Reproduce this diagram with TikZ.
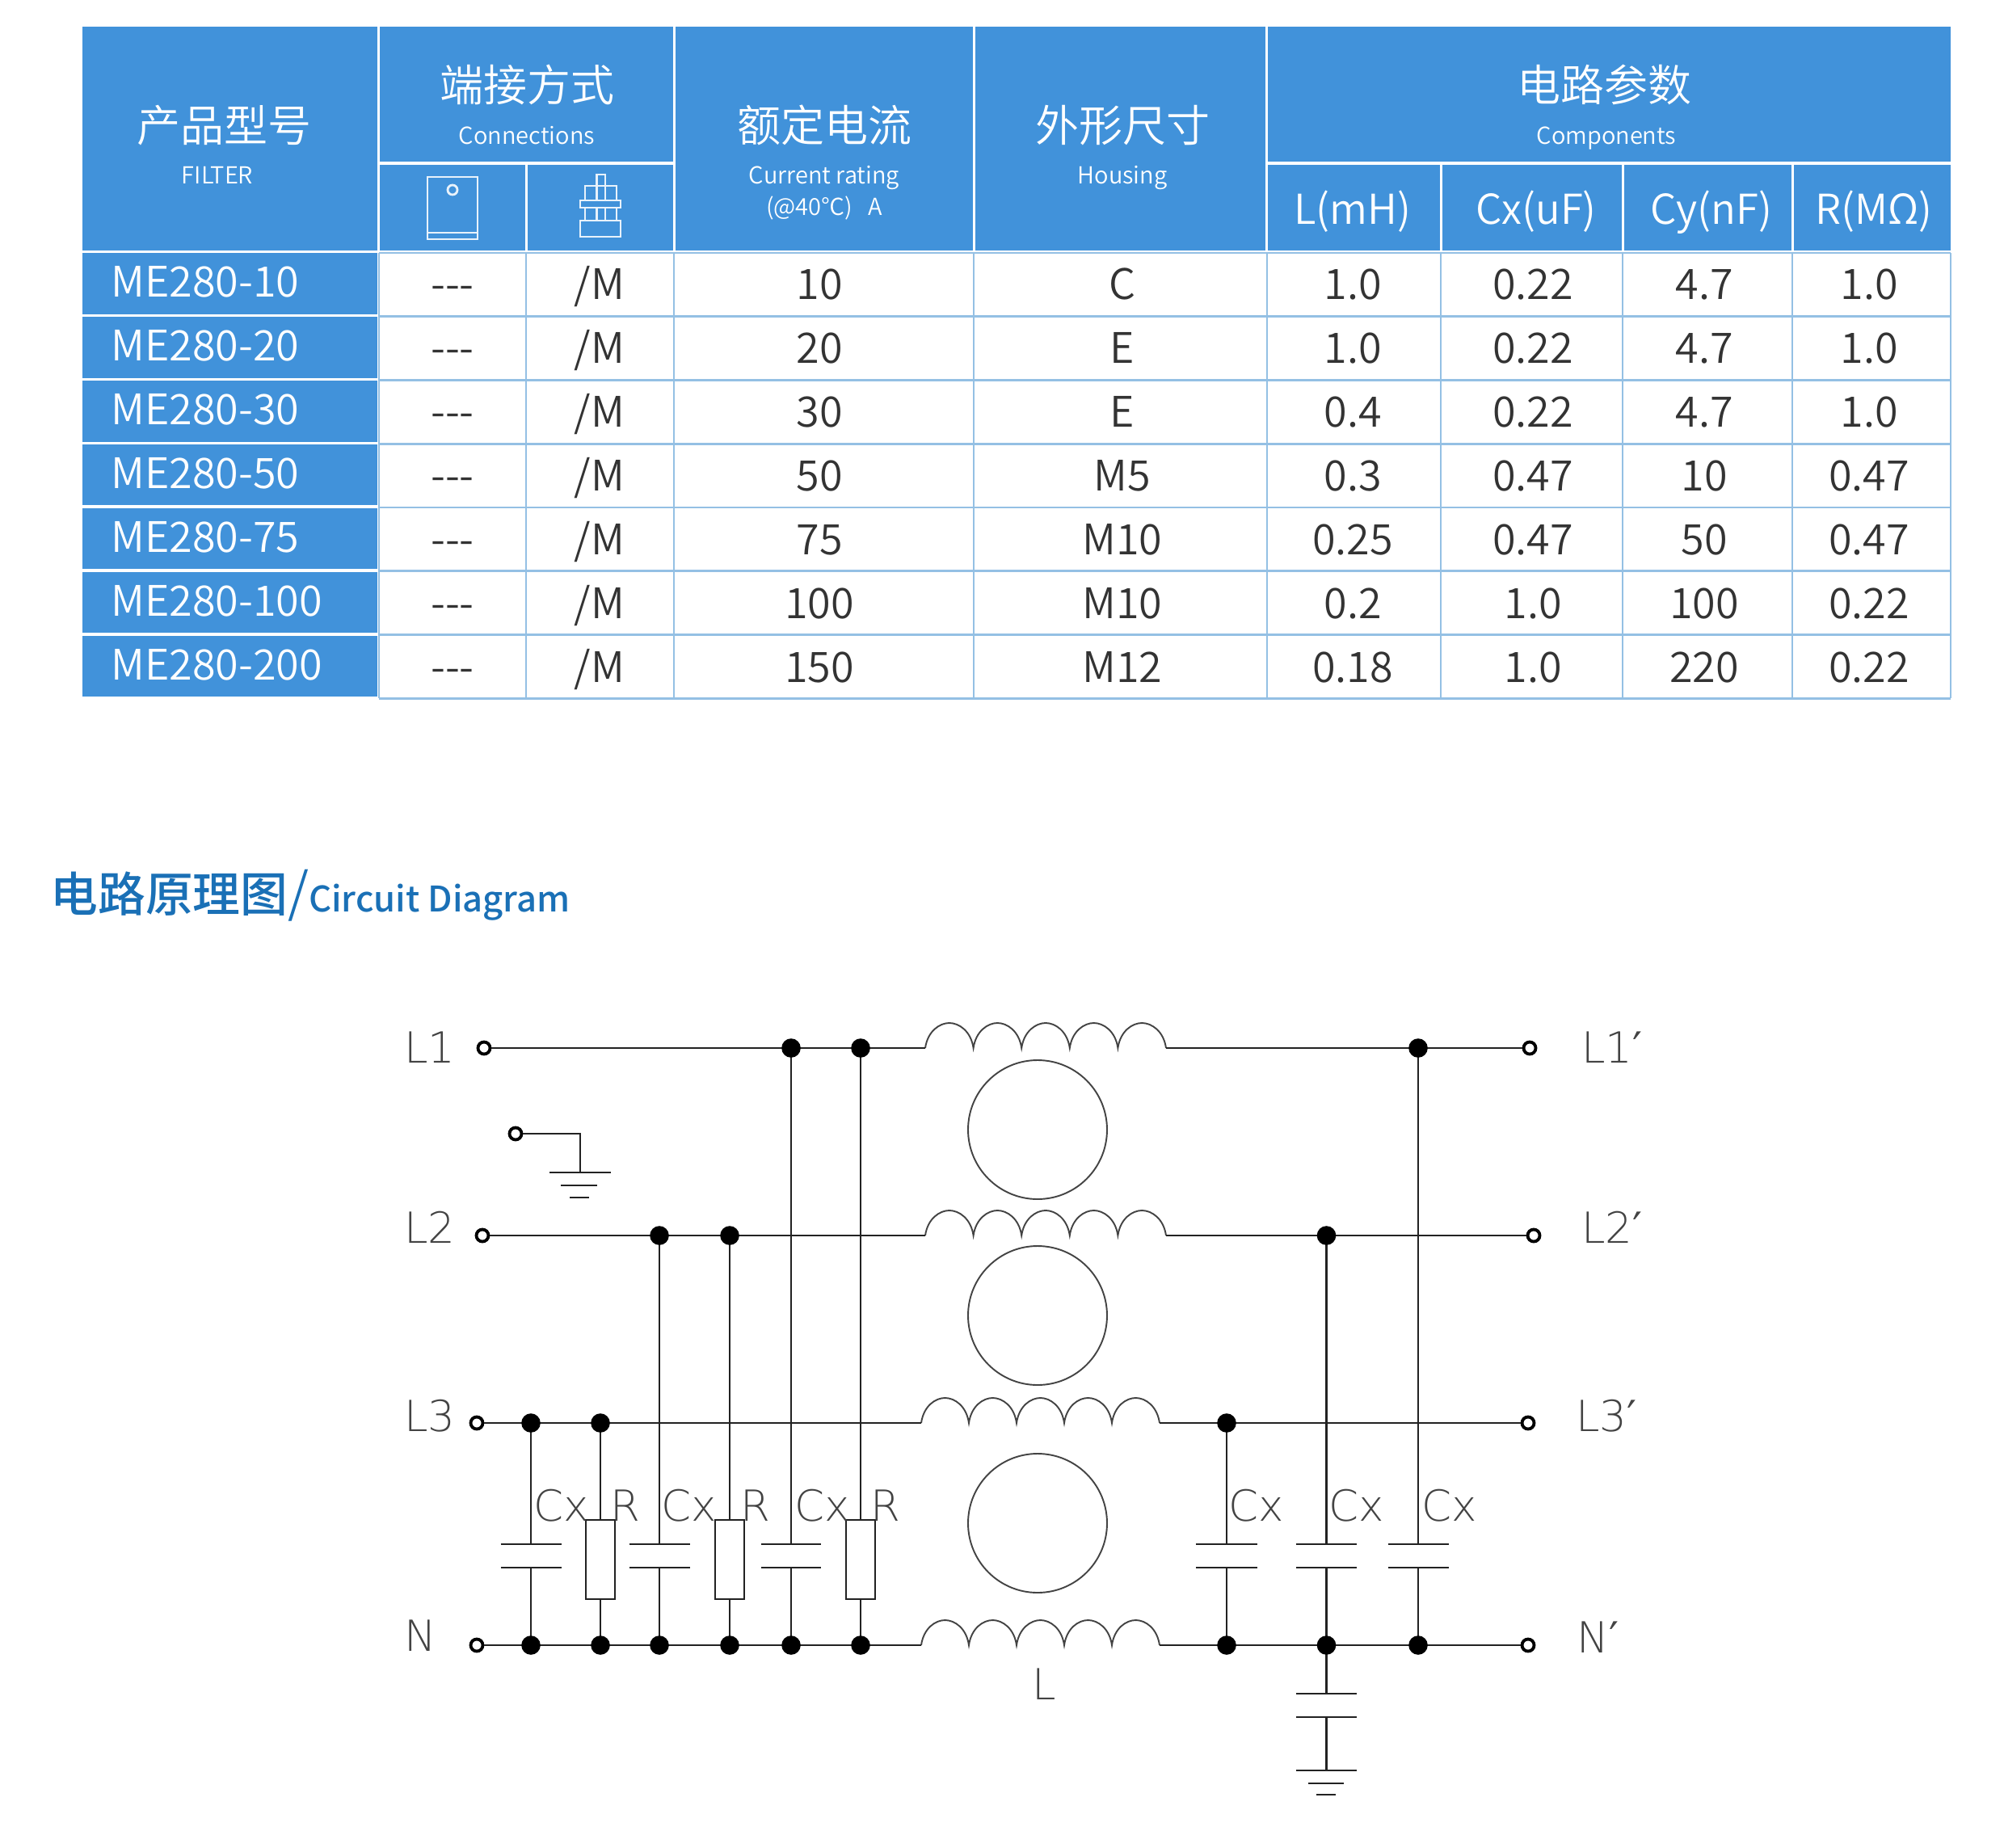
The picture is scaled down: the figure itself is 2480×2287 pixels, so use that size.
\documentclass[tikz,border=0pt]{standalone}
\usepackage{fontspec}
\IfFontExistsTF{Noto Sans CJK SC DemiLight}
  {\newfontfamily\tblf{Noto Sans CJK SC DemiLight}}
  {\IfFontExistsTF{Noto Sans CJK SC Light}
    {\newfontfamily\tblf{Noto Sans CJK SC Light}}
    {\newfontfamily\tblf{Noto Sans CJK SC}}}
\IfFontExistsTF{Noto Sans CJK SC Medium}
  {\newfontfamily\ttlf{Noto Sans CJK SC Medium}}
  {\newfontfamily\ttlf{Noto Sans CJK SC}}
\IfFontExistsTF{DejaVu Sans ExtraLight}
  {\newfontfamily\cadf{DejaVu Sans ExtraLight}}
  {\newfontfamily\cadf{Lato}}
\newfontfamily\primef{DejaVu Sans}
\newcommand\cadprime{{\primef ′}}
\definecolor{hdrblue}{HTML}{4192DA}
\definecolor{gridblue}{HTML}{94C0E4}
\definecolor{inkdark}{HTML}{333333}
\definecolor{titleblue}{HTML}{1A70B6}
\definecolor{wire}{HTML}{222222}
\newcommand\sz[1]{\fontsize{#1}{#1}\selectfont}
\newcommand\coilat[4]{%
  \coordinate (#1a) at (#2,#3);
  \coordinate (#1b) at ({#2+5*#4},#3);
  \draw[coilline] (#1a) foreach \i in {0,...,4}{
     .. controls ({#2+\i*#4+3},{#3-21}) and ({#2+\i*#4+0.5*#4-12},{#3-31}) .. ({#2+\i*#4+0.5*#4},{#3-31})
     .. controls ({#2+\i*#4+0.5*#4+12},{#3-31}) and ({#2+\i*#4+#4-3},{#3-21}) .. ({#2+(\i+1)*#4},#3)
  };}
\newcommand\capat[4]{%
  \coordinate (#1t) at (#2,#3);
  \coordinate (#1b) at (#2,{#3+29});
  \draw[plate] ({#2-#4},#3) -- ({#2+#4},#3);
  \draw[plate] ({#2-#4},{#3+29}) -- ({#2+#4},{#3+29});}
\begin{document}
\begin{tikzpicture}[x=0.5pt,y=-0.5pt,
  hdr/.style={fill=hdrblue,draw=none},
  htxt/.style={text=white,inner sep=0pt,font=\tblf\sz{27},anchor=center},
  hsub/.style={text=white,inner sep=0pt,font=\tblf\sz{14.5},anchor=base},
  hpar/.style={text=white,inner sep=0pt,font=\tblf\sz{25.5},anchor=base},
  mtxt/.style={text=white,inner sep=0pt,font=\tblf\sz{26},anchor=base west},
  dtxt/.style={text=inkdark,inner sep=0pt,font=\tblf\sz{26},anchor=base},
  gridl/.style={draw=gridblue,line width=1.4pt},
  icon/.style={draw=white!88!hdrblue,line width=1.4pt},
  wireline/.style={draw=wire,line width=1.35pt},
  vline/.style={draw=wire,line width=1.15pt},
  plate/.style={draw=wire,line width=1.35pt},
  coilline/.style={draw=wire!85!white,line width=0.95pt},
  core/.style={draw=wire!85!white,line width=0.95pt,circle,minimum size=86pt,inner sep=0pt},
  dot/.style={circle,fill=black,minimum size=11.8pt,inner sep=0pt},
  term/.style={circle,draw=black,fill=white,line width=1.9pt,minimum size=7.5pt,inner sep=0pt},
  res/.style={draw=wire,line width=1.15pt,minimum width=18pt,minimum height=49pt,inner sep=0pt},
  cad/.style={text=wire!85!white,inner sep=0pt,font=\cadf\sz{26.5},anchor=base west}]
\useasboundingbox (0,0) rectangle (2480,2287);
\fill[white] (0,0) rectangle (2480,2287);
% ---------- table header
\fill[hdr] (102,33) rectangle (467,310);
\fill[hdr] (470,33) rectangle (833,200);
\fill[hdr] (470,204) rectangle (650,310);
\fill[hdr] (653,204) rectangle (833,310);
\fill[hdr] (836,33) rectangle (1204,310);
\fill[hdr] (1207,33) rectangle (1566,310);
\fill[hdr] (1569,33) rectangle (2414,200);
\fill[hdr] (1569,204) rectangle (1782,310);
\fill[hdr] (1785,204) rectangle (2007,310);
\fill[hdr] (2010,204) rectangle (2217,310);
\fill[hdr] (2220,204) rectangle (2414,310);
% ---------- model column cells
\foreach \k in {0,...,6}{
  \fill[hdr] (102,{313+79*\k}) rectangle (467,{389+78.8*\k});
}
% ---------- data grid
\foreach \xx in {469,651,834,1205,1568,1783,2008,2218,2414}{
  \draw[gridl] (\xx,313) -- (\xx,864);
}
\foreach \k in {0,...,7}{
  \draw[gridl] (469,{313+78.75*\k}) -- (2414,{313+78.75*\k});
}
% ---------- header text
\node[htxt] (h1) at (277,155) {产品型号};
\node[hsub] (h1s) at (269,227) {FILTER};
\node[htxt] (h2) at (652,105) {端接方式};
\node[hsub] (h2s) at (652,178) {Connections};
\node[htxt] (h3) at (1020,155) {额定电流};
\node[hsub] (h3s) at (1020,227) {Current rating};
\node[hsub] (h3t) at (1020,266) {(@40℃)\ \ \ A};
\node[htxt] (h4) at (1389,155) {外形尺寸};
\node[hsub] (h4s) at (1389,227) {Housing};
\node[htxt] (h5) at (1985,105) {电路参数};
\node[hsub] (h5s) at (1988,178) {Components};
\node[hpar] (p1) at (1674,277) {L(mH)};
\node[hpar] (p2) at (1901,277) {Cx(uF)};
\node[hpar] (p3) at (2118,277) {Cy(nF)};
\node[hpar] (p4) at (2319,277) {R(MΩ)};
% ---------- connection icons
\draw[icon] (529,219) rectangle (591,296);
\draw[icon] (529,288) -- (591,288);
\draw[icon] (560,235) circle (3pt);
\draw[icon] (738.5,216) rectangle (749,230);
\draw[icon] (724,230) rectangle (763,248);
\draw[icon] (738.5,230) -- (738.5,248) (749,230) -- (749,248);
\draw[icon] (718,248) rectangle (768,257);
\draw[icon] (724,257) rectangle (763,273);
\draw[icon] (738.5,257) -- (738.5,273) (749,257) -- (749,273);
\draw[icon] (718,273) rectangle (768,293);
% ---------- data rows
\foreach \k/\m/\rt/\hs/\vl/\vc/\vy/\vr in {
 0/ME280-10/10/C/1.0/0.22/4.7/1.0,
 1/ME280-20/20/E/1.0/0.22/4.7/1.0,
 2/ME280-30/30/E/0.4/0.22/4.7/1.0,
 3/ME280-50/50/M5/0.3/0.47/10/0.47,
 4/ME280-75/75/M10/0.25/0.47/50/0.47,
 5/ME280-100/100/M10/0.2/1.0/100/0.22,
 6/ME280-200/150/M12/0.18/1.0/220/0.22}{
  \pgfmathsetmacro\yc{351+79*\k}
  \pgfmathsetmacro\yb{\yc+16}
  \pgfmathsetmacro\yd{\yc+19}
  \node[mtxt] (m\k) at (137,\yb) {\m};
  \node[dtxt] (a\k) at (560,\yd) {-{}-{}-};
  \node[dtxt] (b\k) at (742,\yd) {/M};
  \node[dtxt] (c\k) at (1014,\yd) {\rt};
  \node[dtxt] (d\k) at (1389,\yd) {\hs};
  \node[dtxt] (e\k) at (1674,\yd) {\vl};
  \node[dtxt] (f\k) at (1897,\yd) {\vc};
  \node[dtxt] (g\k) at (2109,\yd) {\vy};
  \node[dtxt] (i\k) at (2313,\yd) {\vr};
}
% ---------- title
\node[anchor=base west,inner sep=0pt,text=titleblue] (title) at (62,1128)
  {{\ttlf\sz{29.4}电路原理图}{\tblf\sz{33}/}{\ttlf\sz{21.8}Circuit Diagram}};
% ---------- circuit: coils and cores
\coilat{cA}{1145}{1297}{59.6}
\coilat{cB}{1145}{1529}{59.6}
\coilat{cC}{1140}{1761}{59}
\coilat{cD}{1140}{2036}{59}
\node[core] (core1) at (1284,1398) {};
\node[core] (core2) at (1284,1628) {};
\node[core] (core3) at (1284,1885) {};
% ---------- terminals
\node[term] (tL1) at (599,1297) {};
\node[term] (tL2) at (597,1529) {};
\node[term] (tL3) at (590,1761) {};
\node[term] (tN) at (590,2036) {};
\node[term] (tG) at (638,1403) {};
\node[term] (tRa) at (1893,1297) {};
\node[term] (tRb) at (1898,1529) {};
\node[term] (tRc) at (1891,1761) {};
\node[term] (tRd) at (1891,2036) {};
% ---------- junctions
\coordinate (jA1) at (979,1297);
\coordinate (jA2) at (1065,1297);
\coordinate (jA3) at (1755,1297);
\coordinate (jB1) at (816,1529);
\coordinate (jB2) at (903,1529);
\coordinate (jB3) at (1641.5,1529);
\coordinate (jC1) at (657,1761);
\coordinate (jC2) at (743,1761);
\coordinate (jC3) at (1518,1761);
\foreach \n/\xx in {1/657,2/743,3/816,4/903,5/979,6/1065,7/1518,8/1641.5,9/1755}{
  \coordinate (jN\n) at (\xx,2036);
}
% ---------- resistors and capacitors
\capat{ca}{657}{1911}{37.5}
\capat{cb}{816}{1911}{37.5}
\capat{cc}{979}{1911}{37}
\capat{cd}{1518}{1911}{38}
\capat{ce}{1641.5}{1911}{37.5}
\capat{cf}{1755}{1911}{37.5}
\capat{cg}{1641.5}{2096}{37.5}
\node[res] (ra) at (743,1930) {};
\node[res] (rb) at (903,1930) {};
\node[res] (rc) at (1065,1930) {};
% ---------- wires
\draw[wireline] (tL1) -- (cAa) (cAb) -- (tRa);
\draw[wireline] (tL2) -- (cBa) (cBb) -- (tRb);
\draw[wireline] (tL3) -- (cCa) (cCb) -- (tRc);
\draw[wireline] (tN) -- (cDa) (cDb) -- (tRd);
\draw[vline] (jC1) -- (cat) (cab) -- (jN1);
\draw[vline] (jC2) -- (ra) (ra) -- (jN2);
\draw[vline] (jB1) -- (cbt) (cbb) -- (jN3);
\draw[vline] (jB2) -- (rb) (rb) -- (jN4);
\draw[vline] (jA1) -- (cct) (ccb) -- (jN5);
\draw[vline] (jA2) -- (rc) (rc) -- (jN6);
\draw[vline] (jC3) -- (cdt) (cdb) -- (jN7);
\draw[vline] (jB3) -- (cet) (ceb) -- (jN8);
\draw[vline] (jA3) -- (cft) (cfb) -- (jN9);
\draw[vline] (jN8) -- (cgt);
\coordinate (gndR) at (1641.5,2191);
\draw[vline] (cgb) -- (gndR);
\draw[plate] (1604,2191) -- (1679,2191);
\draw[plate] (1619,2207) -- (1663,2207);
\draw[plate] (1629,2221) -- (1653,2221);
% ---------- chassis ground
\coordinate (gndL) at (718,1451);
\draw[vline] (tG) -| (gndL);
\draw[plate] (680,1451) -- (756,1451);
\draw[plate] (694,1467) -- (739,1467);
\draw[plate] (705,1482) -- (729,1482);
% ---------- junction dots
\foreach \j in {jA1,jA2,jA3,jB1,jB2,jB3,jC1,jC2,jC3,jN1,jN2,jN3,jN4,jN5,jN6,jN7,jN8,jN9}{
  \node[dot] at (\j) {};
}
% ---------- CAD labels
\node[cad] (lL1) at (500,1315) {L1};
\node[cad] (lL2) at (500,1538) {L2};
\node[cad] (lL3) at (500,1771) {L3};
\node[cad] (lN) at (500,2043) {N};
\node[cad] (lL1p) at (1957,1315) {L1\cadprime};
\node[cad] (lL2p) at (1957,1538) {L2\cadprime};
\node[cad] (lL3p) at (1950,1771) {L3\cadprime};
\node[cad] (lNp) at (1951,2045) {N\cadprime};
\node[cad] (lL) at (1277,2103) {L};
\foreach \xx/\t in {660/Cx,755/R,818/Cx,916/R,983/Cx,1077/R,1520/Cx,1644/Cx,1759/Cx}{
  \node[cad] at (\xx,1882) {\t};
}
\end{tikzpicture}
\end{document}
